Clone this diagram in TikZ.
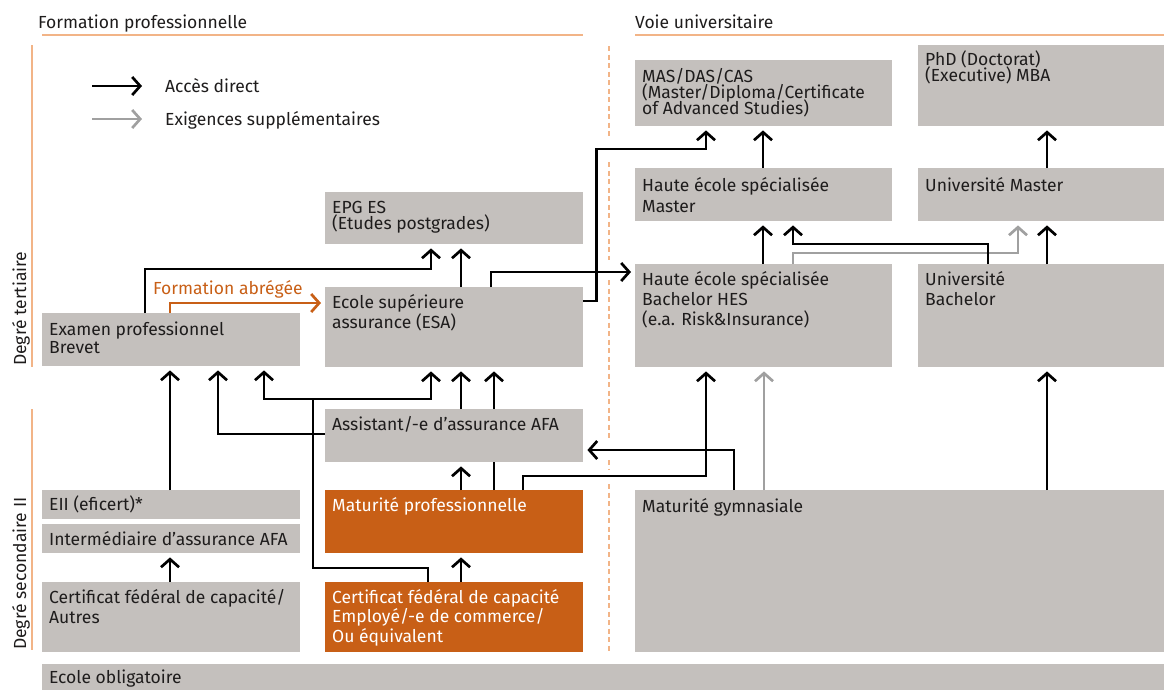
\documentclass[tikz,border=0pt]{standalone}
\usepackage{fontspec}
\setmainfont{Fira Sans}
\usetikzlibrary{arrows.meta, positioning}

\definecolor{boxgray}{RGB}{196,192,189}
\definecolor{boxorange}{RGB}{200,95,22}
\definecolor{lineorange}{RGB}{242,180,135}
\definecolor{reqgray}{RGB}{160,160,160}
\definecolor{txtdark}{RGB}{30,28,28}

% lines of a box text, first baseline at the anchor
\newcommand{\lines}[2][20]{\parbox[t]{300pt}{\lineskiplimit=-\maxdimen\baselineskip=#1pt #2}}

\tikzset{
  box/.style={fill=boxgray, inner sep=0, anchor=north west},
  obox/.style={fill=boxorange, inner sep=0, anchor=north west},
  txt/.style={anchor=base west, inner sep=0, text=txtdark, font=\fontsize{17.5}{20}\selectfont},
  otxt/.style={txt, text=white},
  acc/.style={draw=black, line width=2.7pt, -{Straight Barb[length=8pt,width=18pt]}, shorten >=4pt},
  req/.style={acc, draw=reqgray},
  plain/.style={draw=black, line width=2.7pt},
  hdr/.style={draw=lineorange, line width=1.6pt},
}

\begin{document}
\begin{tikzpicture}[x=1pt, y=-1pt]
  \useasboundingbox (0,0) rectangle (1164,689);

  % headers and side lines
  \node[txt] (hfp) at (38,28) {Formation professionnelle};
  \node[txt] (hvu) at (635,28) {Voie universitaire};
  \draw[hdr] (42,35) -- (583,35);
  \draw[hdr] (635,35) -- (1164,35);
  \draw[hdr] (32,45) -- (32,367);
  \draw[hdr] (32,409) -- (32,650);
  \node[txt, rotate=90] (dt) at (26,366) {Degré tertiaire};
  \node[txt, rotate=90] (ds) at (26,650) {Degré secondaire II};
  \foreach \a/\b in {46/138, 162/260, 280/440, 460/469, 484/652}
    \draw[draw=lineorange, line width=1.6pt, dash pattern=on 5pt off 3.5pt] (609,\a) -- (609,\b);

  % legend
  \coordinate (la) at (92,86);
  \coordinate (lb) at (142,86);
  \coordinate (lc) at (92,119);
  \coordinate (ld) at (142,119);
  \draw[acc, shorten >=0pt] (la) -- (lb);
  \draw[req, shorten >=0pt] (lc) -- (ld);
  \node[txt] (lacc) at (165,92) {Accès direct};
  \node[txt] (lreq) at (165,125) {Exigences supplémentaires};

  % boxes
  \node[box, minimum width=258, minimum height=52] (epg) at (325,192) {};
  \node[box, minimum width=258, minimum height=80] (esa) at (325,287) {};
  \node[box, minimum width=258, minimum height=53] (exam) at (42,313) {};
  \node[box, minimum width=258, minimum height=53] (assist) at (325,409) {};
  \node[box, minimum width=258, minimum height=29] (eii) at (42,490) {};
  \node[box, minimum width=258, minimum height=29] (inter) at (42,524) {};
  \node[box, minimum width=258, minimum height=70] (cfca) at (42,582) {};
  \node[obox, minimum width=258, minimum height=63] (matpro) at (325,490) {};
  \node[obox, minimum width=258, minimum height=70] (cfc) at (325,582) {};
  \node[box, minimum width=1122, minimum height=30] (oblig) at (42,664) {};
  \node[box, minimum width=257, minimum height=66] (mas) at (635,60) {};
  \node[box, minimum width=246, minimum height=81] (phd) at (918,45) {};
  \node[box, minimum width=257, minimum height=53] (hesm) at (635,168) {};
  \node[box, minimum width=246, minimum height=53] (unim) at (918,168) {};
  \node[box, minimum width=257, minimum height=103] (hesb) at (635,264) {};
  \node[box, minimum width=246, minimum height=103] (unib) at (918,264) {};
  \node[box, minimum width=529, minimum height=162] (gym) at (635,490) {};

  % box texts
  \node[txt] (epg-t) at ([xshift=7,yshift=-21]epg.north west) {\lines[16.5]{EPG ES\\(Etudes postgrades)}};
  \node[txt] (esa-t) at ([xshift=7,yshift=-21]esa.north west) {\lines{Ecole supérieure\\assurance (ESA)}};
  \node[txt] (exam-t) at ([xshift=7,yshift=-22]exam.north west) {\lines[18.5]{Examen professionnel\\Brevet}};
  \node[txt] (assist-t) at ([xshift=7,yshift=-21]assist.north west) {Assistant/-e d’assurance AFA};
  \node[txt] (eii-t) at ([xshift=7,yshift=-20]eii.north west) {EII (eficert)*};
  \node[txt] (inter-t) at ([xshift=7,yshift=-21]inter.north west) {Intermédiaire d’assurance AFA};
  \node[txt] (cfca-t) at ([xshift=7,yshift=-21]cfca.north west) {\lines{Certificat fédéral de capacité/\\Autres}};
  \node[otxt] (matpro-t) at ([xshift=7,yshift=-21]matpro.north west) {Maturité professionnelle};
  \node[otxt] (cfc-t) at ([xshift=7,yshift=-21]cfc.north west) {\lines[19.5]{Certificat fédéral de capacité\\Employé/-e de commerce/\\Ou équivalent}};
  \node[txt] (oblig-t) at ([xshift=7,yshift=-19]oblig.north west) {Ecole obligatoire};
  \node[txt] (mas-t) at ([xshift=7,yshift=-22]mas.north west) {\lines[16]{MAS/DAS/CAS\\(Master/Diploma/Certificate\\of Advanced Studies)}};
  \node[txt] (phd-t) at ([xshift=7,yshift=-20]phd.north west) {\lines[16]{PhD (Doctorat)\\(Executive) MBA}};
  \node[txt] (hesm-t) at ([xshift=7,yshift=-23]hesm.north west) {\lines[21]{Haute école spécialisée\\Master}};
  \node[txt] (unim-t) at ([xshift=7,yshift=-23]unim.north west) {Université Master};
  \node[txt] (hesb-t) at ([xshift=7,yshift=-21]hesb.north west) {\lines{Haute école spécialisée\\Bachelor HES\\(e.a. Risk\&Insurance)}};
  \node[txt] (unib-t) at ([xshift=7,yshift=-21]unib.north west) {\lines{Université\\Bachelor}};
  \node[txt] (gym-t) at ([xshift=7,yshift=-22]gym.north west) {Maturité gymnasiale};

  % extra requirements
  \draw[req] ([xshift=158]hesb.north west) -- ++(0,-11) -| ([xshift=100]unim.south west);
  \draw[req] ([xshift=129]gym.north west) -- ([xshift=129]hesb.south west);

  % direct access
  \draw[acc] ([xshift=103]exam.north west) -- ++(0,-44) -| ([xshift=106]epg.south west);
  \draw[acc] ([xshift=136]esa.north west) -- ([xshift=136]epg.south west);
  \draw[acc] ([xshift=166]esa.north west) |- ([yshift=-8]hesb.north west);
  \draw[acc] ([yshift=-14]esa.north east) -| ++(13,-152) -| ([xshift=71]mas.south west);
  \draw[acc] ([xshift=128]eii.north west) -- ([xshift=128]exam.south west);
  \draw[acc] ([yshift=-25]assist.north west) -| ([xshift=176]exam.south west);
  \draw[acc] ([xshift=103]cfc.north west) -- ++(0,-14) -| ++(-115,-169) coordinate (j) -| ([xshift=222]exam.south west);
  \draw[acc] (j) -| ([xshift=106]esa.south west);
  \draw[acc] ([xshift=136]assist.north west) -- ([xshift=136]esa.south west);
  \draw[plain] ([xshift=169]matpro.north west) -- ([xshift=169]assist.south west);
  \draw[acc] ([xshift=169]assist.north west) -- ([xshift=169]esa.south west);
  \draw[acc] ([xshift=136]matpro.north west) -- ([xshift=136]assist.south west);
  \draw[acc] ([xshift=198]matpro.north west) -- ++(0,-14) -| ([xshift=71]hesb.south west);
  \draw[acc] ([xshift=99]gym.north west) |- ([yshift=-41]assist.north east);
  \draw[acc] ([xshift=412]gym.north west) -- ([xshift=129]unib.south west);
  \draw[acc] ([xshift=128]cfca.north west) -- ([xshift=128]inter.south west);
  \draw[acc] ([xshift=136]cfc.north west) -- ([xshift=136]matpro.south west);
  \draw[acc] ([xshift=128]hesb.north west) -- ([xshift=128]hesm.south west);
  \draw[acc] ([xshift=128]hesm.north west) -- ([xshift=128]mas.south west);
  \draw[acc] ([xshift=129]unim.north west) -- ([xshift=129]phd.south west);
  \draw[acc] ([xshift=129]unib.north west) -- ([xshift=129]unim.south west);
  \draw[acc] ([xshift=70]unib.north west) -- ++(0,-20) -| ([xshift=158]hesm.south west);

  % shortened course
  \draw[acc, draw=boxorange] ([xshift=128]exam.north west) |- ([yshift=-16]esa.north west);
  \node[txt, text=boxorange] (abr) at (153,294) {Formation abrégée};
\end{tikzpicture}
\end{document}
